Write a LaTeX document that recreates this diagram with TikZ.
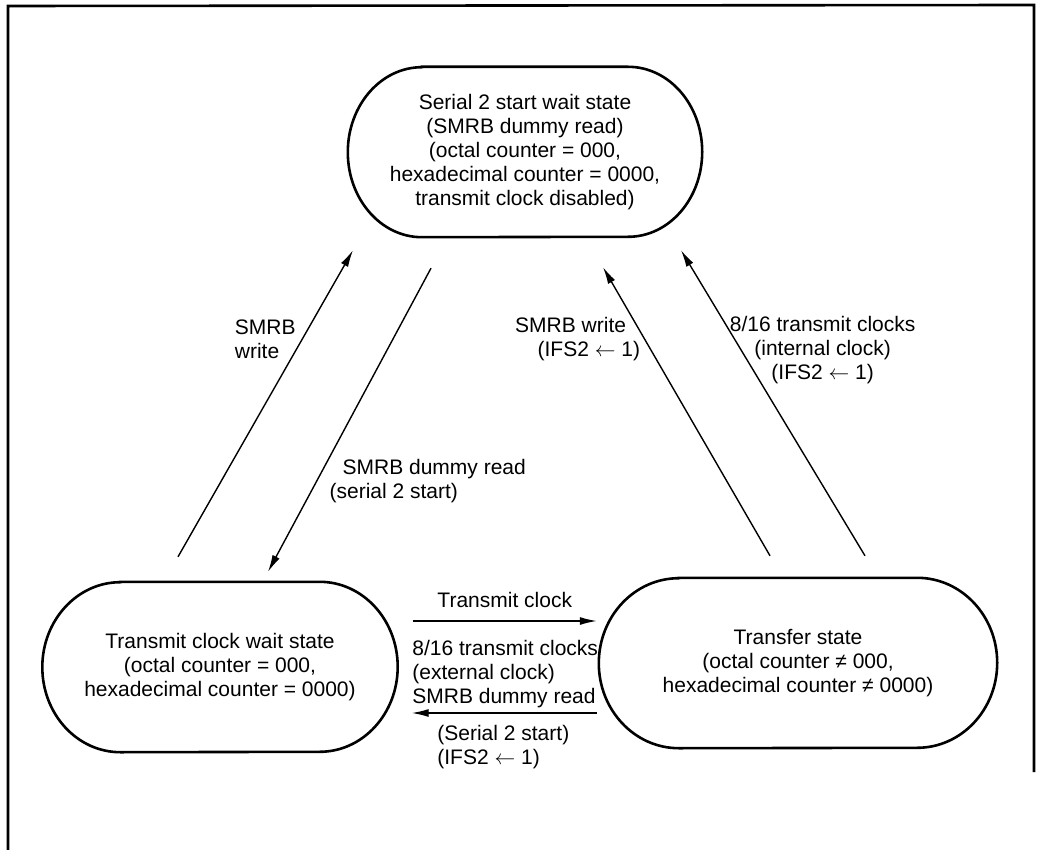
\documentclass[tikz,border=0pt]{standalone}
\usepackage{fontspec}
\setmainfont{Liberation Sans}
\usetikzlibrary{arrows.meta,positioning}

% outline of a state: node name, x radius of the ends, y radius of the ends
\newcommand{\stateoutline}[3]{%
  \draw[line width=2.6pt] ([xshift=#2]#1.north west) -- ([xshift=-#2]#1.north east)
    arc[start angle=90, end angle=-90, x radius=#2, y radius=#3]
    -- ([xshift=#2]#1.south west)
    arc[start angle=270, end angle=90, x radius=#2, y radius=#3] -- cycle;}
\newcommand{\setto}{$\leftarrow$}

\begin{document}
\begin{tikzpicture}[
    x=1pt, y=-1pt,
    every node/.style={font=\fontsize{21}{24}\selectfont, align=center, inner sep=0pt},
    state/.style={minimum height=170pt},
    arrow/.style={-{Latex[length=17pt,width=8pt]}, line width=1.4pt}
]
\useasboundingbox (0,0) rectangle (1038,850);
% frame
\draw[line width=2.6pt] (8,850) -- (8,6) -- (1034,5) -- (1034,772);

\node[state, minimum width=354pt] (sswait) at (525,152) {Serial 2 start wait state\\(SMRB dummy read)\\(octal counter = 000,\\hexadecimal counter = 0000,\\transmit clock disabled)};
\node[state, minimum width=355pt] (tcwait) at (220,667) {Transmit clock wait state\\(octal counter = 000,\\hexadecimal counter = 0000)};
\node[state, minimum width=398pt] (xfer) at (798,663) {Transfer state\\(octal counter ≠ 000,\\hexadecimal counter ≠ 0000)};
\stateoutline{sswait}{74pt}{85pt}
\stateoutline{tcwait}{78pt}{85pt}
\stateoutline{xfer}{80pt}{85pt}

\draw[arrow] ([shift={(-42,-25)}]tcwait.north) -- node[pos=.71, left=6pt, align=left] {SMRB\\write} ([shift={(-172,13)}]sswait.south);
\draw[arrow] ([shift={(-94,31)}]sswait.south) -- node[pos=.70, right=12pt, align=left] {\hspace*{13pt}SMRB dummy read\\(serial 2 start)} ([shift={(48,-10)}]tcwait.north);
\draw[arrow] ([shift={(-28,-22)}]xfer.north) -- node[pos=.75, left=4pt, align=right] {SMRB write\kern14pt\mbox{}\\(IFS2 \setto{} 1)} ([shift={(78,30)}]sswait.south);
\draw[arrow] ([shift={(67,-22)}]xfer.north) -- node[pos=.673, right=-12pt] {8/16 transmit clocks\\(internal clock)\\(IFS2 \setto{} 1)} ([shift={(156,13)}]sswait.south);

\draw[arrow] ([shift={(15,-46)}]tcwait.east) -- node[above=13pt] {Transmit clock} ([shift={(-2,-42)}]xfer.west);
\draw[arrow] ([shift={(-2,50)}]xfer.west) --
  node[pos=1, anchor=south west, yshift=4pt, align=left] {8/16 transmit clocks\\(external clock)\\SMRB dummy read}
  node[pos=1, anchor=north west, xshift=25pt, yshift=-12pt, align=left] {(Serial 2 start)\\(IFS2 \setto{} 1)}
  ([shift={(14,46)}]tcwait.east);
\end{tikzpicture}
\end{document}
